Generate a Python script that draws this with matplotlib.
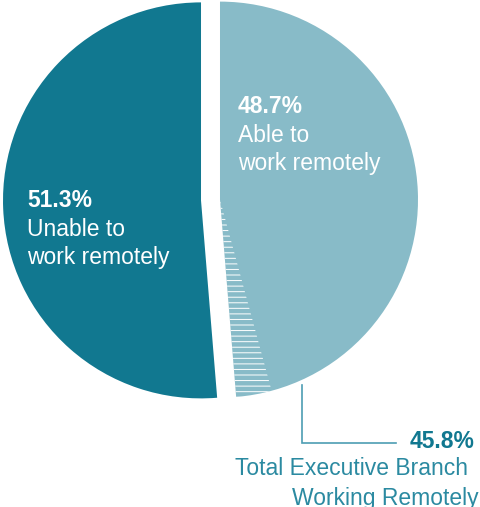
import matplotlib.pyplot as plt
from matplotlib.patches import Wedge

# share of executive branch staff
labels = ['Able to\nwork remotely', 'Unable to\nwork remotely']
shares = [48.7, 51.3]
total_remote = 45.8

DARK = '#117890'
LIGHT = '#88bbc8'
W, H = 481, 507


def py(y):
    # pixel row (top-down) to axis y (bottom-up)
    return H - y


def main():
    plt.rcParams['font.family'] = ['Liberation Sans', 'DejaVu Sans']
    plt.rcParams['hatch.linewidth'] = 0.7
    fig = plt.figure(figsize=(W / 100, H / 100), dpi=100)
    ax = fig.add_axes([0, 0, 1, 1])

    radius = 198
    wedges, _ = ax.pie(shares, colors=[LIGHT, DARK], startangle=90, counterclock=False,
                       radius=radius, center=(210.5, py(200)), explode=[9.5, 9.5],
                       frame=True, wedgeprops=dict(linewidth=0))
    ax.set_xlim(0, W)
    ax.set_ylim(0, H)
    ax.axis('off')

    # hatched part of the light slice: able but not working remotely
    light = wedges[0]
    end = 90 - shares[0] / 100 * 360
    start = 90 - total_remote / 100 * 360
    hatch = Wedge(light.center, radius, end, start, facecolor='none',
                  edgecolor='white', hatch='---', linewidth=0)
    ax.add_patch(hatch)

    fs = 16.5
    ax.text(238, py(113), f'{shares[0]}%', color='white', fontsize=fs, fontweight='bold')
    ax.text(238, py(142), labels[0].split('\n')[0], color='white', fontsize=fs)
    ax.text(238, py(170), labels[0].split('\n')[1], color='white', fontsize=fs)

    ax.text(27, py(207), f'{shares[1]}%', color='white', fontsize=fs, fontweight='bold')
    ax.text(27, py(236), labels[1].split('\n')[0], color='white', fontsize=fs)
    ax.text(27, py(264), labels[1].split('\n')[1], color='white', fontsize=fs)

    # leader line and callout
    ax.plot([302, 302, 396], [py(385), py(443), py(443)], color='#4d9db3', lw=1.2,
            solid_joinstyle='miter')
    ax.text(410, py(448), f'{total_remote}%', color=DARK, fontsize=fs, fontweight='bold')
    ax.text(235, py(475), 'Total Executive Branch', color='#2b8aa1', fontsize=fs)
    ax.text(292, py(505), 'Working Remotely', color='#2b8aa1', fontsize=fs)

    fig.savefig('out.png', dpi=100)


if __name__ == '__main__':
    main()
